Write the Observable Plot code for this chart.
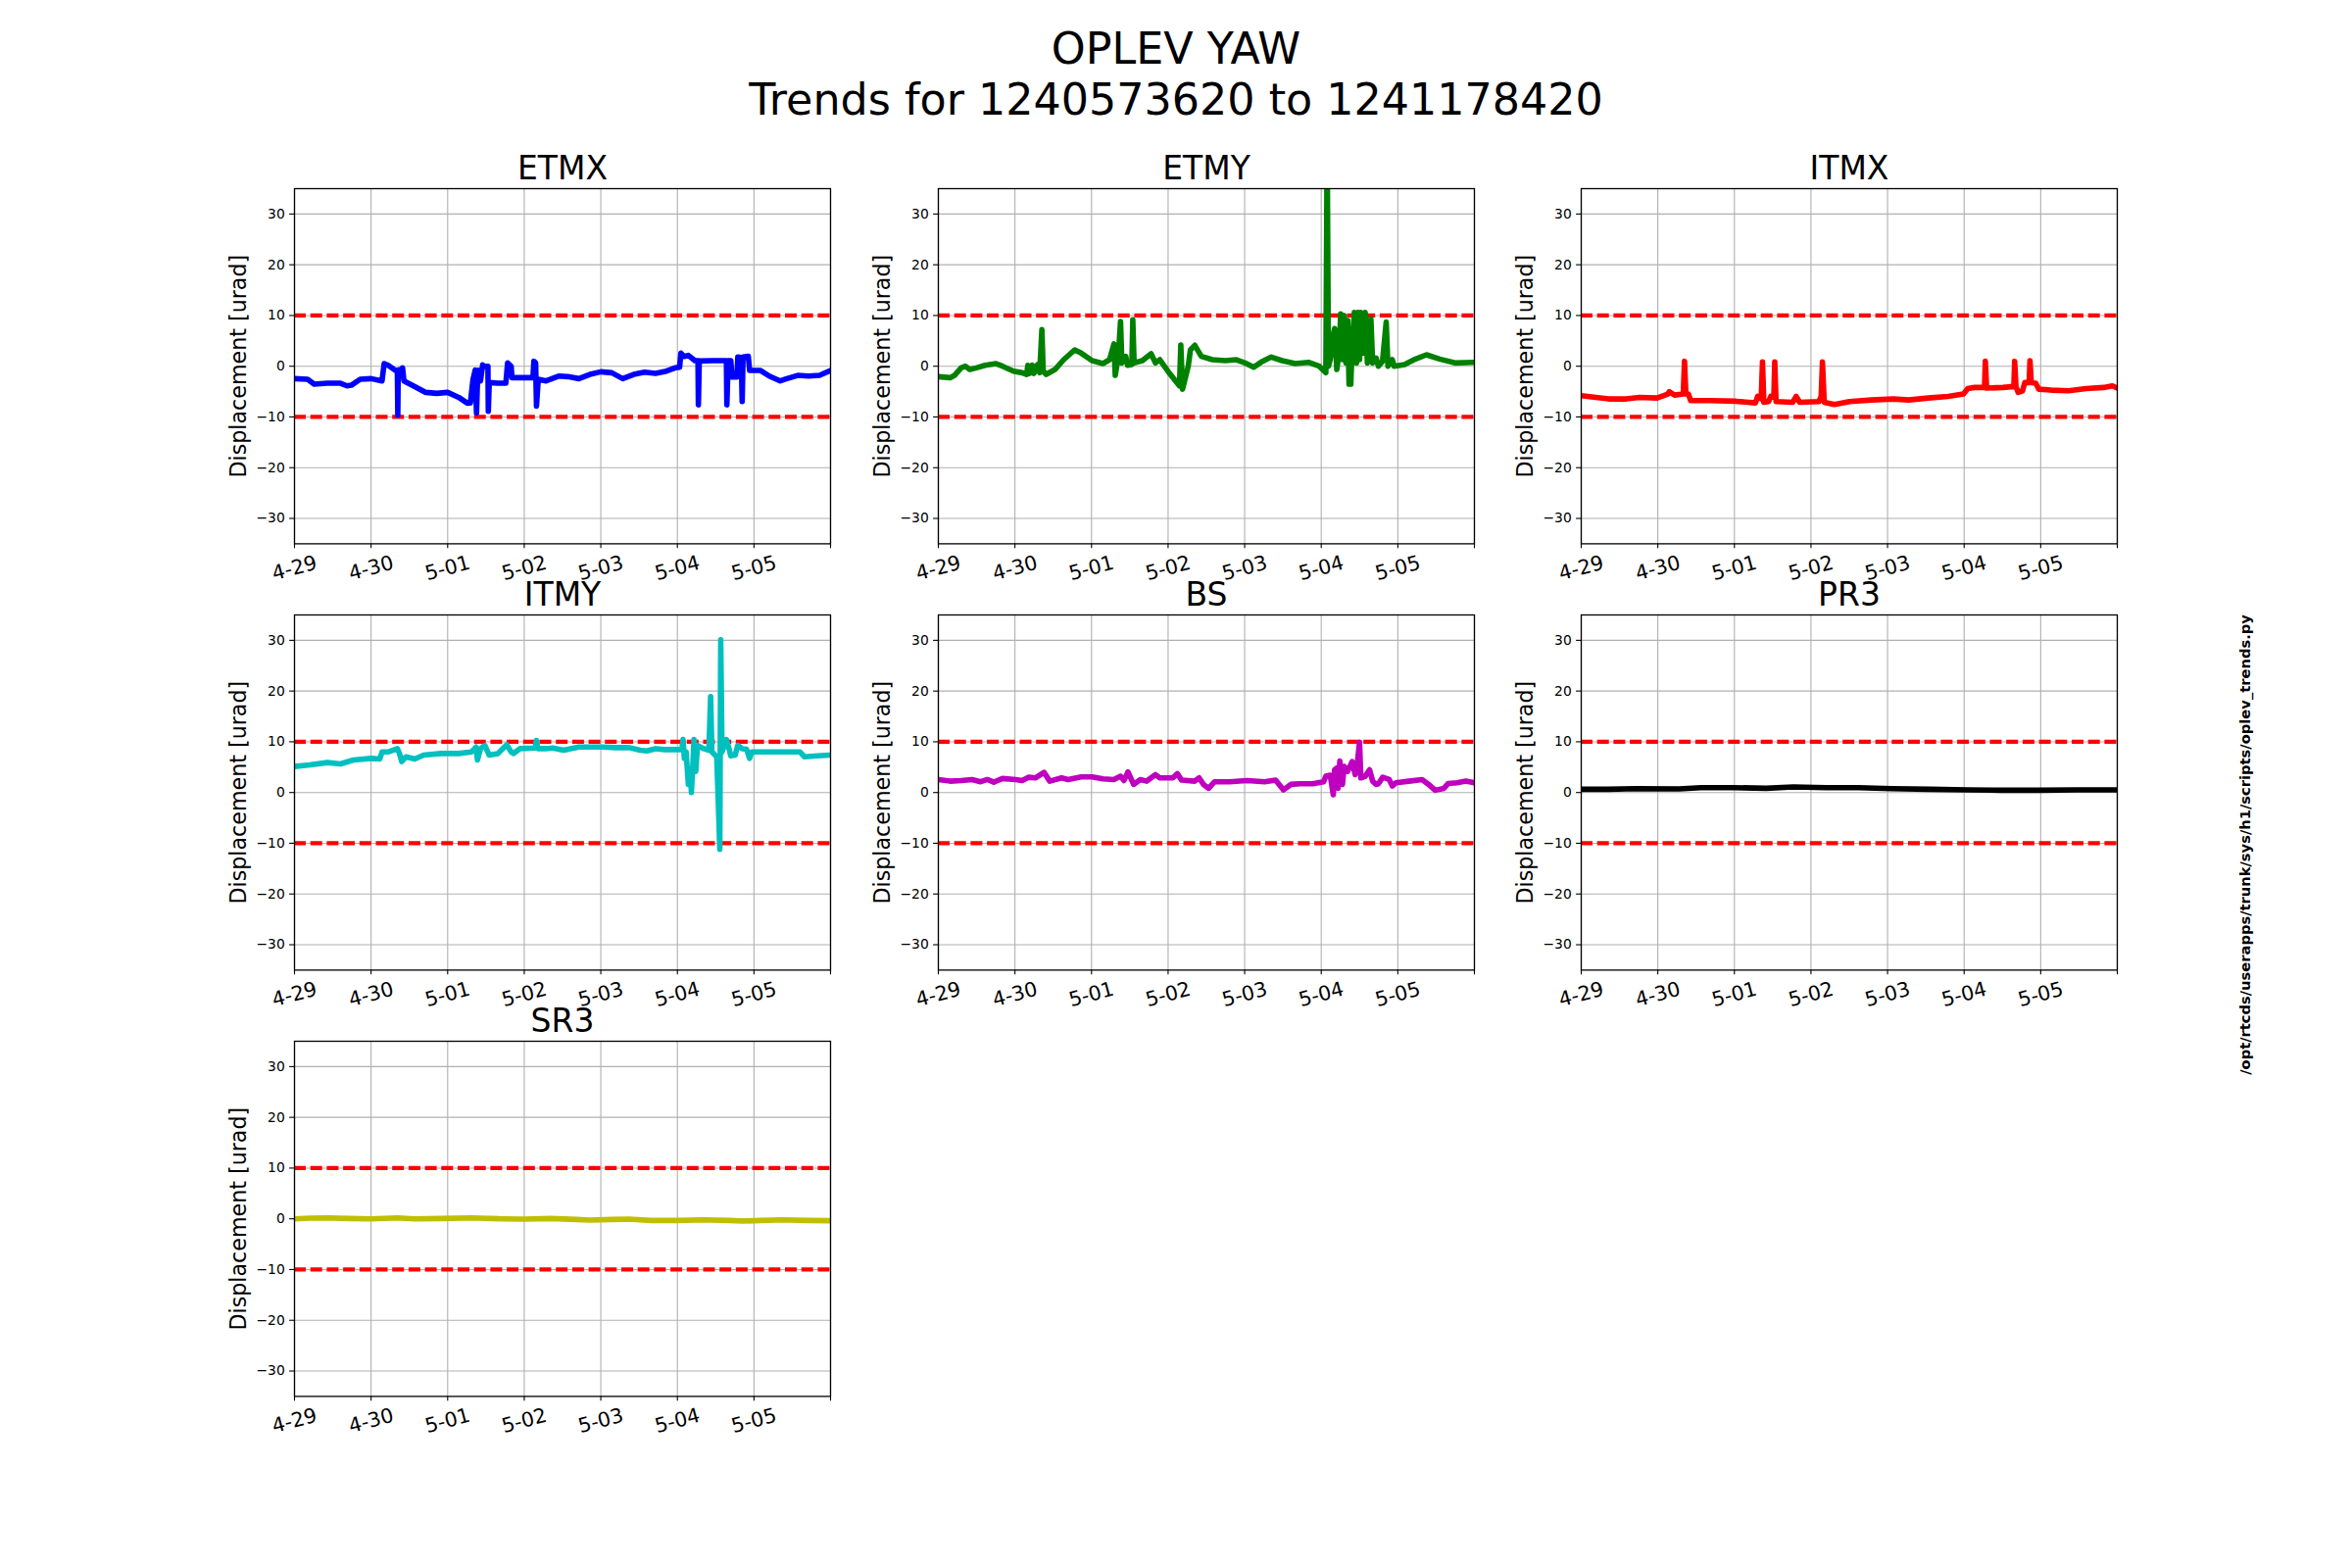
<!DOCTYPE html>
<html><head><meta charset="utf-8">
<script src="https://cdn.jsdelivr.net/npm/d3@7"></script>
<script src="https://cdn.jsdelivr.net/npm/@observablehq/plot@0.6"></script>
<style>
body{margin:0;background:#fff;}
#fig{position:relative;width:2400px;height:1600px;background:#fff;font-family:"DejaVu Sans";overflow:hidden;color:#000}
.cell{position:absolute}
#sup{position:absolute;left:0;width:2400px;top:24px;text-align:center;font-size:44.4px;line-height:52px}
#side{position:absolute;left:2291px;top:862px;transform:translate(-50%,-50%) rotate(-90deg);font-size:14.7px;font-weight:bold;white-space:nowrap;line-height:1}
</style></head><body>
<div id="fig">
<div id="sup">OPLEV YAW<br>Trends for 1240573620 to 1241178420</div>
<div id="side">/opt/rtcds/userapps/trunk/sys/h1/scripts/oplev_trends.py</div>
</div>
<script>
// x = days since start (GPS 1240573620), y = displacement [urad]
const dayLabels = ["4-29","4-30","5-01","5-02","5-03","5-04","5-05"];
const xTicks = [0,1,2,3,4,5,6,7];
const yTicks = [-30,-20,-10,0,10,20,30];
const limits = [10,-10];
const yLabel = "Displacement [urad]";

const etmx = [[0,-2.45],[0.171,-2.58],[0.257,-3.55],[0.429,-3.35],[0.6,-3.35],[0.686,-3.87],[0.743,-3.74],[0.857,-2.58],[1.0,-2.45],[1.143,-2.9],[1.171,0.52],[1.229,0.13],[1.314,-0.77],[1.343,-0.77],[1.349,-9.68],[1.354,-0.77],[1.4,-0.52],[1.411,-0.32],[1.429,-2.9],[1.571,-4.0],[1.714,-5.16],[1.857,-5.35],[2.0,-5.16],[2.143,-6.13],[2.257,-7.29],[2.297,-7.23],[2.331,-2.58],[2.36,-0.77],[2.377,-9.23],[2.394,-0.77],[2.429,-2.9],[2.457,0.26],[2.469,0],[2.526,0],[2.531,-8.9],[2.543,-3.23],[2.657,-3.35],[2.76,-3.35],[2.783,0.65],[2.829,0],[2.84,-2.26],[2.943,-2.26],[3.114,-2.26],[3.126,0.97],[3.149,0.65],[3.16,-7.87],[3.183,-2.58],[3.286,-2.9],[3.457,-1.94],[3.571,-2.06],[3.714,-2.45],[3.857,-1.61],[4.0,-1.1],[4.143,-1.29],[4.286,-2.45],[4.429,-1.61],[4.571,-1.16],[4.714,-1.42],[4.857,-0.97],[4.971,-0.32],[5.029,-0.19],[5.046,2.58],[5.086,1.94],[5.143,2.13],[5.229,1.1],[5.269,1.1],[5.274,-7.61],[5.286,1.03],[5.457,1.1],[5.64,1.1],[5.646,-7.61],[5.663,1.1],[5.697,1.1],[5.714,-2.13],[5.777,-2.13],[5.789,1.81],[5.834,1.74],[5.846,-6.97],[5.857,1.81],[5.926,1.94],[5.943,-0.84],[6.086,-0.84],[6.2,-1.94],[6.343,-2.9],[6.429,-2.45],[6.571,-1.81],[6.714,-1.94],[6.857,-1.81],[7.0,-0.84]];

const etmy = [[0,-2.06],[0.154,-2.26],[0.211,-1.81],[0.297,-0.32],[0.354,0],[0.411,-0.65],[0.496,-0.32],[0.61,0.19],[0.753,0.52],[0.839,0],[0.981,-0.97],[1.095,-1.29],[1.152,-1.61],[1.169,0.19],[1.192,-1.42],[1.226,0.19],[1.249,-1.42],[1.295,0.32],[1.323,-1.29],[1.352,7.23],[1.369,-0.97],[1.409,-1.61],[1.523,-0.65],[1.637,1.29],[1.78,3.23],[1.865,2.58],[2.008,1.1],[2.15,0.52],[2.236,1.29],[2.293,4.39],[2.31,-1.81],[2.35,1.94],[2.379,8.84],[2.396,0.65],[2.447,1.94],[2.47,0.19],[2.527,0.32],[2.539,9.16],[2.556,0.65],[2.664,1.1],[2.778,2.45],[2.835,0.65],[2.892,1.29],[3.006,-1.16],[3.149,-3.87],[3.166,4.19],[3.189,-4.52],[3.263,0],[3.292,3.23],[3.349,4.13],[3.434,1.94],[3.577,1.29],[3.748,1.1],[3.891,1.29],[4.005,0.65],[4.119,-0.19],[4.233,0.97],[4.347,1.81],[4.489,1.1],[4.66,0.52],[4.832,0.77],[4.974,0],[5.06,-1.29],[5.077,45],[5.094,0],[5.117,1.29],[5.146,5.16],[5.174,7.42],[5.203,-0.65],[5.231,2.58],[5.254,10.3],[5.277,1.29],[5.3,10],[5.323,0.65],[5.346,9.03],[5.363,-3.55],[5.386,-3.55],[5.403,3.87],[5.432,10.6],[5.46,0.65],[5.477,10.6],[5.5,1.29],[5.517,10.6],[5.546,2.58],[5.574,10.6],[5.603,0.65],[5.648,9.35],[5.671,0.65],[5.717,1.61],[5.746,0],[5.8,0.97],[5.848,8.71],[5.871,0],[5.928,1.29],[5.951,0],[6.088,0.32],[6.231,1.42],[6.374,2.26],[6.545,1.42],[6.745,0.65],[7.0,0.77]];

const itmx = [[0,-5.81],[0.189,-6.13],[0.36,-6.45],[0.589,-6.45],[0.76,-6.13],[0.989,-6.26],[1.132,-5.48],[1.149,-5.03],[1.218,-5.68],[1.332,-5.48],[1.349,0.97],[1.366,-5.48],[1.4,-5.48],[1.429,-6.77],[1.675,-6.77],[2.018,-6.9],[2.275,-7.23],[2.304,-5.94],[2.35,-6.45],[2.367,0.84],[2.384,-7.1],[2.447,-6.97],[2.475,-5.94],[2.515,-6.13],[2.527,0.84],[2.544,-6.97],[2.761,-7.1],[2.807,-5.94],[2.853,-7.1],[3.104,-6.97],[3.133,-5.94],[3.15,0.84],[3.173,-7.1],[3.305,-7.55],[3.505,-6.97],[3.791,-6.65],[4.077,-6.45],[4.277,-6.65],[4.534,-6.26],[4.791,-5.94],[4.991,-5.48],[5.048,-4.39],[5.134,-4.19],[5.266,-4.19],[5.277,0.97],[5.294,-4.32],[5.506,-4.19],[5.649,-4.0],[5.66,0.97],[5.677,-4.0],[5.706,-5.16],[5.763,-4.84],[5.792,-3.23],[5.849,-3.23],[5.86,1.1],[5.877,-3.23],[5.935,-3.35],[5.975,-4.52],[6.135,-4.71],[6.364,-4.84],[6.592,-4.39],[6.821,-4.19],[6.935,-3.87],[7.0,-4.3]];

const itmy = [[0,5.13],[0.2,5.45],[0.429,5.9],[0.6,5.64],[0.771,6.41],[1.0,6.73],[1.114,6.6],[1.143,8.01],[1.229,8.01],[1.343,8.65],[1.371,7.69],[1.4,6.09],[1.457,7.05],[1.571,6.6],[1.686,7.37],[1.914,7.69],[2.143,7.69],[2.314,8.01],[2.371,8.97],[2.389,6.41],[2.429,8.65],[2.486,9.29],[2.543,7.37],[2.657,7.69],[2.771,9.42],[2.829,8.01],[2.857,7.69],[2.943,8.65],[3.143,8.78],[3.16,10.26],[3.177,8.65],[3.286,8.65],[3.371,8.78],[3.514,8.33],[3.714,8.97],[4.0,8.97],[4.2,8.85],[4.371,8.85],[4.514,8.33],[4.6,8.21],[4.714,8.65],[4.829,8.46],[4.971,8.46],[5.057,8.46],[5.074,10.45],[5.091,6.73],[5.114,8.01],[5.143,1.6],[5.171,3.53],[5.183,0],[5.206,6.73],[5.217,10.45],[5.24,4.17],[5.263,9.29],[5.343,8.65],[5.411,8.33],[5.434,18.9],[5.451,8.01],[5.514,7.05],[5.554,-11.2],[5.566,30.1],[5.583,8.01],[5.64,10.45],[5.674,8.65],[5.697,7.24],[5.754,7.37],[5.789,9.29],[5.846,8.65],[5.903,8.53],[5.943,6.73],[5.971,8.01],[6.143,8.01],[6.371,8.01],[6.6,8.01],[6.657,7.05],[6.829,7.24],[7.0,7.37]];

const bs = [[0,2.56],[0.154,2.24],[0.297,2.37],[0.439,2.56],[0.553,2.12],[0.639,2.56],[0.724,2.05],[0.838,2.76],[1.009,2.56],[1.095,2.37],[1.18,3.01],[1.266,2.88],[1.38,3.97],[1.455,2.24],[1.609,2.88],[1.694,2.56],[1.865,3.08],[2.008,3.08],[2.15,2.69],[2.293,2.56],[2.379,3.21],[2.424,2.37],[2.476,4.04],[2.55,1.6],[2.636,2.56],[2.721,2.24],[2.835,3.53],[2.892,2.88],[3.063,2.88],[3.12,3.72],[3.177,2.44],[3.348,2.24],[3.405,2.88],[3.462,1.6],[3.531,0.83],[3.605,2.12],[3.805,2.12],[4.033,2.37],[4.261,2.12],[4.404,2.44],[4.506,0.51],[4.603,1.6],[4.717,1.73],[4.888,1.73],[5.031,2.12],[5.06,3.21],[5.117,3.4],[5.157,-0.45],[5.174,4.49],[5.203,4.81],[5.22,0.83],[5.243,6.22],[5.277,1.6],[5.3,5.13],[5.345,4.17],[5.403,6.09],[5.443,3.53],[5.46,4.17],[5.5,9.94],[5.517,2.88],[5.574,3.21],[5.631,4.49],[5.671,2.24],[5.717,1.6],[5.746,1.73],[5.803,3.01],[5.888,2.56],[5.928,1.28],[5.974,1.92],[6.145,2.24],[6.317,2.56],[6.402,1.6],[6.488,0.45],[6.602,0.83],[6.659,1.79],[6.773,1.92],[6.887,2.24],[7.0,1.92]];

const pr3 = [[0,0.64],[0.355,0.64],[0.711,0.77],[1.28,0.71],[1.564,0.96],[1.99,0.96],[2.416,0.83],[2.771,1.09],[3.198,0.96],[3.624,0.96],[4.05,0.77],[4.548,0.64],[5.046,0.51],[5.472,0.45],[5.97,0.45],[6.467,0.51],[7.0,0.51]];

const sr3 = [[0,0],[0.2,0.13],[0.429,0.19],[0.714,0.06],[1.0,0],[1.343,0.19],[1.571,0],[1.914,0.06],[2.314,0.19],[2.714,0],[3.0,-0.06],[3.343,0.06],[3.686,-0.13],[3.857,-0.25],[4.143,-0.13],[4.371,-0.06],[4.657,-0.32],[5.0,-0.32],[5.343,-0.19],[5.686,-0.32],[5.857,-0.45],[6.086,-0.32],[6.371,-0.19],[6.714,-0.32],[7.0,-0.38]];

const panels = [
  {name:"ETMX", data:etmx, color:"#0000ff", col:0, row:0},
  {name:"ETMY", data:etmy, color:"#008000", col:1, row:0},
  {name:"ITMX", data:itmx, color:"#ff0000", col:2, row:0},
  {name:"ITMY", data:itmy, color:"#00bfbf", col:0, row:1},
  {name:"BS",   data:bs,   color:"#bf00bf", col:1, row:1},
  {name:"PR3",  data:pr3,  color:"#000000", col:2, row:1},
  {name:"SR3",  data:sr3,  color:"#bfbf00", col:0, row:2}
];

const colX = [300, 956.5, 1613];
const rowY = [192, 626.8, 1061.6];
const W = 547, H = 362.4;
const mL = 100, mR = 30, mT = 50, mB = 60;
const fig = document.getElementById("fig");

for (const p of panels) {
  const chart = Plot.plot({
    width: W + mL + mR, height: H + mT + mB,
    marginLeft: mL, marginRight: mR, marginTop: mT, marginBottom: mB,
    x: {domain: [0, 7], axis: null},
    y: {domain: [-35, 35], axis: null},
    style: {fontFamily: "DejaVu Sans", background: "transparent", overflow: "visible", color: "black"},
    marks: [
      Plot.gridX(xTicks, {stroke: "#b0b0b0", strokeOpacity: 1, strokeWidth: 1.1}),
      Plot.gridY(yTicks, {stroke: "#b0b0b0", strokeOpacity: 1, strokeWidth: 1.1}),
      Plot.ruleY(limits, {stroke: "red", strokeWidth: 4.2, strokeDasharray: "12,4.7"}),
      Plot.line(p.data, {x: d => d[0], y: d => d[1], stroke: p.color, strokeWidth: 5.6, clip: true}),
      Plot.frame({stroke: "black", strokeWidth: 1.3}),
      Plot.axisY(yTicks, {tickSize: 4.9, tickPadding: 4.9, fontSize: 13.9, strokeWidth: 1.1, label: null}),
      Plot.axisX(xTicks, {tickSize: 4.9, strokeWidth: 1.1, tickFormat: () => "", label: null}),
      Plot.text(dayLabels, {x: (d, i) => i, text: d => d, frameAnchor: "bottom", dy: 25, rotate: -15, fontSize: 20.5, textAnchor: "middle", lineAnchor: "middle", fill: "black"}),
      Plot.text([p.name], {frameAnchor: "top", dy: -9, lineAnchor: "bottom", fontSize: 33, fill: "black"}),
      Plot.text([yLabel], {frameAnchor: "left", dx: -57, rotate: -90, fontSize: 22.2, textAnchor: "middle", lineAnchor: "middle", fill: "black"})
    ]
  });
  const cell = document.createElement("div");
  cell.className = "cell";
  cell.style.left = (colX[p.col] - mL) + "px";
  cell.style.top = (rowY[p.row] - mT) + "px";
  cell.appendChild(chart);
  fig.appendChild(cell);
}
</script>
</body></html>
